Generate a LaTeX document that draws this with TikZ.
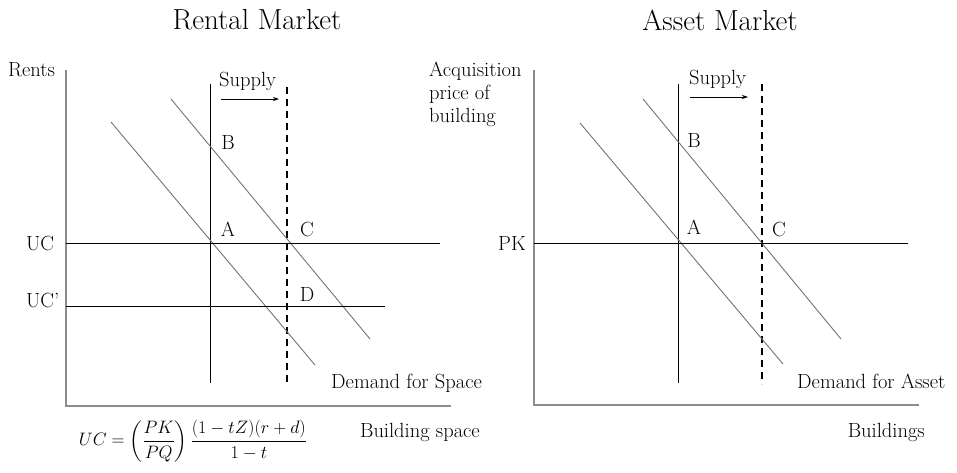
\documentclass[tikz,border=0pt]{standalone}
\usepackage{fix-cm}
\usepackage{amsmath}
\usetikzlibrary{arrows.meta}
\begin{document}
\begin{tikzpicture}[x=1pt,y=-1pt,
  axis/.style={draw=black!45,line width=1.3pt},
  supplyline/.style={draw=black,line width=0.9pt},
  supplynew/.style={draw=black,line width=1.8pt,dash pattern=on 7pt off 5pt},
  demandline/.style={draw=black!55,line width=0.9pt},
  level/.style={draw=black,line width=0.8pt},
  lbl/.style={font=\fontsize{20.5}{23}\selectfont,inner sep=0pt},
  ttl/.style={font=\fontsize{29}{33}\selectfont,inner sep=0pt},
  shiftarrow/.style={-{Stealth[length=6pt,width=4pt]},line width=0.9pt}]
\useasboundingbox (0,0) rectangle (957,472);
% ---------------- Rental market ----------------
\node[ttl] (t1) at (257,20) {Rental Market};
\coordinate (o1) at (66,406);
\coordinate (y1) at (66,70);
\coordinate (x1) at (451,406);
\draw[axis] (y1) -- (o1) -- (x1);
\node[lbl,anchor=west] (rents) at (8,70) {Rents};
\coordinate (s1t) at (210,84); \coordinate (s1b) at (210,383);
\coordinate (n1t) at (287,87); \coordinate (n1b) at (287,385);
\draw[supplyline] (s1t) -- (s1b);
\draw[supplynew] (n1t) -- (n1b);
\node[lbl,anchor=west] (sup1) at (219,81) {Supply};
\coordinate (a1s) at (221,99); \coordinate (a1e) at (279,99);
\draw[shiftarrow] (a1s) -- (a1e);
\coordinate (d1a) at (171,99); \coordinate (d1b) at (370,339);
\coordinate (d2a) at (111,122); \coordinate (d2b) at (315,365);
\draw[demandline] (d1a) -- (d1b);
\draw[demandline] (d2a) -- (d2b);
\coordinate (uc1) at (66,243); \coordinate (uc2) at (440,243);
\draw[level] (uc1) -- (uc2);
\coordinate (ucp1) at (66,306); \coordinate (ucp2) at (385,306);
\draw[level] (ucp1) -- (ucp2);
\node[lbl,anchor=west] (uc) at (26,243) {UC};
\node[lbl,anchor=west] (ucp) at (26,300) {UC'};
\node[lbl] (B1) at (228,142) {B};
\node[lbl] (A1) at (228,229) {A};
\node[lbl] (C1) at (307,229) {C};
\node[lbl] (D1) at (307,294) {D};
\node[lbl,anchor=west] (dem1) at (331,383) {Demand for Space};
\node[lbl,anchor=east] (bs) at (480,432) {Building space};
\node[font=\fontsize{18}{21}\selectfont,inner sep=0pt] (form) at (193,441)
  {$\displaystyle UC=\left(\frac{PK}{PQ}\right)\frac{(1-tZ)(r+d)}{1-t}$};
% ---------------- Asset market ----------------
\node[ttl] (t2) at (720,20) {Asset Market};
\coordinate (o2) at (534,405);
\coordinate (y2) at (534,70);
\coordinate (x2) at (919,405);
\draw[axis] (y2) -- (o2) -- (x2);
\node[lbl,anchor=north west,align=left,font=\fontsize{20.5}{23}\selectfont] (acq) at (429,62)
  {Acquisition\\price of\\building};
\coordinate (s2t) at (678,84); \coordinate (s2b) at (678,383);
\coordinate (n2t) at (762,84); \coordinate (n2b) at (762,384);
\draw[supplyline] (s2t) -- (s2b);
\draw[supplynew] (n2t) -- (n2b);
\node[lbl,anchor=west] (sup2) at (689,79) {Supply};
\coordinate (a2s) at (690,97); \coordinate (a2e) at (748,97);
\draw[shiftarrow] (a2s) -- (a2e);
\coordinate (e1a) at (643,99); \coordinate (e1b) at (841,339);
\coordinate (e2a) at (580,123); \coordinate (e2b) at (783,364);
\draw[demandline] (e1a) -- (e1b);
\draw[demandline] (e2a) -- (e2b);
\coordinate (pk1) at (534,243); \coordinate (pk2) at (908,243);
\draw[level] (pk1) -- (pk2);
\node[lbl,anchor=east] (pk) at (526,243) {PK};
\node[lbl] (B2) at (694,140) {B};
\node[lbl] (A2) at (694,227) {A};
\node[lbl] (C2) at (779,229) {C};
\node[lbl,anchor=west] (dem2) at (797,381) {Demand for Asset};
\node[lbl,anchor=east] (bld) at (925,432) {Buildings};
\end{tikzpicture}
\end{document}
